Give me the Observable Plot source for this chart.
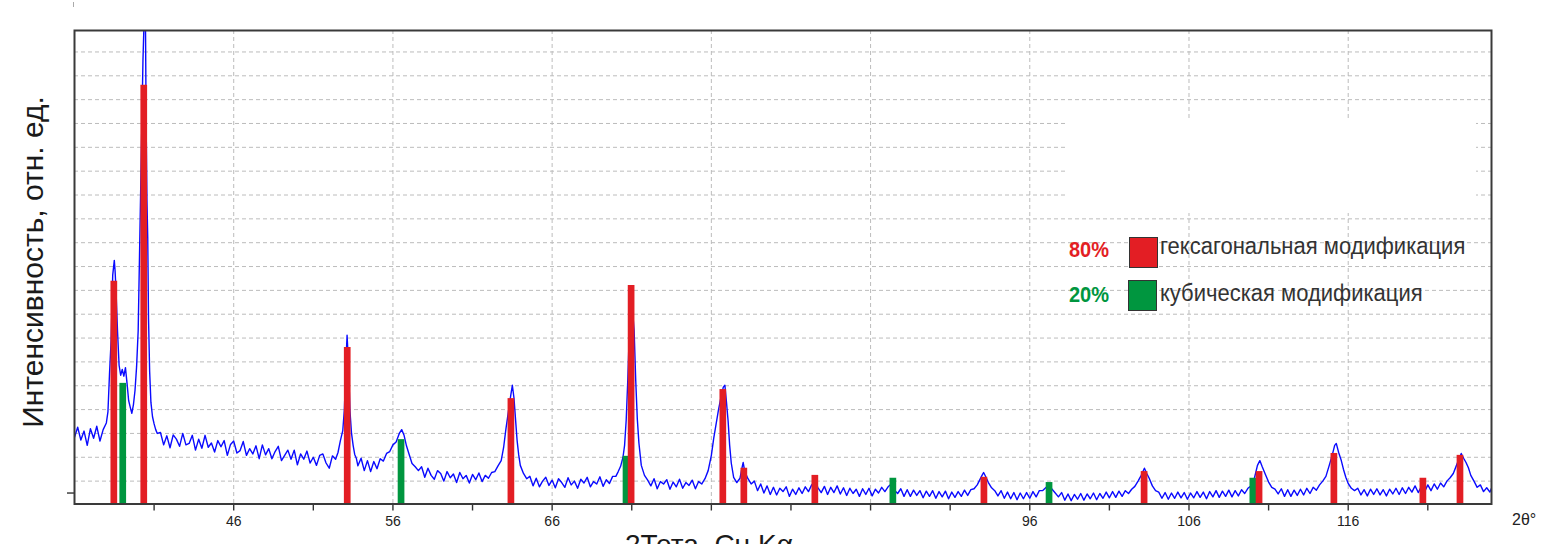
<!DOCTYPE html>
<html>
<head>
<meta charset="utf-8">
<script src="https://cdn.jsdelivr.net/npm/d3@7"></script>
<script src="https://cdn.jsdelivr.net/npm/@observablehq/plot@0.6"></script>
<style>
  html, body { margin: 0; padding: 0; background: #fff; overflow: hidden; }
  #wrap { position: relative; width: 1546px; height: 544px; font-family: "Liberation Sans", Arial, sans-serif; }
  #wrap svg { position: absolute; left: 0; top: 0; }
  .ov { position: absolute; white-space: nowrap; }
</style>
</head>
<body>
<div id="wrap"></div>
<script>
// ---------- data ----------
const xDomain = [36, 125];
const yDomain = [2, 995];
const xMinorTicks = [41, 46, 51, 56, 61, 66, 71, 76, 81, 86, 91, 96, 101, 106, 111, 116, 121];
const xLabelTicks = [46, 56, 66, 76, 86, 96, 106, 116];
const yGrid = [50, 100, 150, 200, 250, 300, 350, 400, 450, 500, 550, 600, 650, 700, 750, 800, 850, 900, 950];
const yOuterTick = [25];

// hexagonal phase reference lines (2θ, relative intensity)
const hexPos = [38.47, 40.35, 53.13, 63.41, 70.96, 76.72, 78.04, 82.50, 93.12, 103.18, 110.40, 115.10, 120.69, 123.02];
const hexVal = [469, 880, 330, 223, 460, 242, 77, 62, 58, 70, 70, 108, 56, 104];
// cubic phase reference lines
const cubPos = [39.03, 56.51, 70.64, 87.40, 97.21, 110.01];
const cubVal = [255, 137, 102, 56, 47, 56];

const legendPct = ["80%", "20%"];
const legendLabels = ["гексагональная модификация", "кубическая модификация"];
const phaseColors = ["#e31e24", "#00963f"];

const yTitle = "Интенсивность, отн. ед.";
const xTitle = "2Тета, Cu Kα";
const xUnit = "2θ°";

// measured diffraction pattern [2θ, intensity]
const trace = [
[36.0,142],[36.2,163],[36.4,136],[36.6,155],[36.8,125],[37.0,160],[37.2,140],[37.4,165],[37.6,134],[37.8,158],
[38.0,172],[38.1,195],[38.2,276],[38.3,345],[38.4,482],[38.5,513],[38.55,490],[38.6,456],[38.7,366],[38.8,293],
[38.9,272],[39.0,284],[39.1,270],[39.2,288],[39.3,255],[39.4,219],[39.5,205],[39.6,192],[39.7,210],[39.8,240],
[39.9,290],[40.0,366],[40.1,555],[40.2,743],[40.3,932],[40.4,1050],[40.45,1050],[40.5,800],[40.55,640],[40.6,560],
[40.65,390],[40.72,280],[40.8,215],[40.9,185],[41.0,170],[41.1,158],[41.2,150],[41.4,152],[41.6,126],[41.8,145],
[42.0,120],[42.2,147],[42.4,138],[42.6,123],[42.8,150],[43.0,126],[43.2,129],[43.4,146],[43.6,115],[43.8,138],
[44.0,119],[44.2,146],[44.4,121],[44.6,130],[44.8,111],[45.0,135],[45.2,122],[45.4,135],[45.6,104],[45.8,127],
[46.0,134],[46.2,109],[46.4,114],[46.6,133],[46.8,104],[47.0,118],[47.2,107],[47.4,124],[47.6,97],[47.8,126],
[48.0,105],[48.2,118],[48.4,97],[48.6,112],[48.8,123],[49.0,93],[49.2,104],[49.4,115],[49.6,96],[49.8,115],
[50.0,84],[50.2,107],[50.4,96],[50.6,113],[50.8,88],[51.0,100],[51.2,83],[51.4,104],[51.6,107],[51.8,88],
[52.0,77],[52.2,103],[52.4,96],[52.55,110],[52.7,135],[52.85,156],[52.95,200],[53.05,300],[53.12,356],[53.2,303],
[53.3,198],[53.4,150],[53.5,125],[53.6,106],[53.7,98],[53.8,82],[54.0,98],[54.2,72],[54.4,93],[54.6,70],
[54.8,91],[55.0,76],[55.2,97],[55.4,92],[55.6,108],[55.8,112],[56.0,126],[56.2,132],[56.4,150],[56.55,158],
[56.7,146],[56.85,124],[57.0,108],[57.2,87],[57.4,80],[57.6,72],[57.8,80],[58.0,58],[58.2,77],[58.4,62],
[58.6,54],[58.8,72],[59.0,66],[59.2,50],[59.4,70],[59.6,57],[59.8,65],[60.0,47],[60.2,68],[60.4,55],
[60.6,62],[60.8,46],[61.0,64],[61.2,53],[61.4,67],[61.6,49],[61.8,62],[62.0,56],[62.2,68],[62.4,70],
[62.6,82],[62.8,93],[62.95,120],[63.1,160],[63.25,195],[63.4,230],[63.5,251],[63.6,225],[63.7,180],[63.8,135],
[63.9,105],[64.0,83],[64.2,66],[64.4,55],[64.6,60],[64.8,40],[65.0,56],[65.2,38],[65.4,50],[65.6,58],
[65.8,41],[66.0,52],[66.2,36],[66.4,55],[66.6,47],[66.8,37],[67.0,57],[67.2,42],[67.4,50],[67.6,35],
[67.8,54],[68.0,46],[68.2,58],[68.4,38],[68.6,49],[68.8,44],[69.0,59],[69.2,39],[69.4,53],[69.6,45],
[69.8,60],[70.0,60],[70.15,70],[70.3,81],[70.45,100],[70.55,125],[70.65,177],[70.75,261],[70.85,366],[70.95,429],
[71.05,408],[71.15,366],[71.25,261],[71.35,180],[71.45,130],[71.6,83],[71.8,62],[72.0,52],[72.2,40],[72.4,55],
[72.6,34],[72.8,49],[73.0,44],[73.2,53],[73.4,33],[73.6,48],[73.8,38],[74.0,54],[74.2,35],[74.4,47],
[74.6,41],[74.8,52],[75.0,34],[75.2,49],[75.4,44],[75.6,55],[75.8,72],[76.0,104],[76.15,140],[76.3,170],
[76.45,200],[76.6,225],[76.75,247],[76.85,251],[76.95,215],[77.05,177],[77.15,125],[77.25,88],[77.4,58],[77.6,47],
[77.8,56],[77.95,82],[78.0,89],[78.1,70],[78.3,55],[78.5,44],[78.7,50],[78.9,30],[79.1,44],[79.3,25],
[79.5,40],[79.7,22],[79.9,37],[80.1,21],[80.3,35],[80.5,28],[80.7,38],[80.9,18],[81.1,33],[81.3,22],
[81.5,36],[81.7,24],[81.9,38],[82.1,28],[82.3,42],[82.5,50],[82.7,36],[82.9,26],[83.1,39],[83.3,22],
[83.5,37],[83.7,26],[83.9,40],[84.1,23],[84.3,36],[84.5,20],[84.7,35],[84.9,24],[85.1,33],[85.3,18],
[85.5,34],[85.7,22],[85.9,35],[86.1,19],[86.3,33],[86.5,25],[86.7,37],[86.9,28],[87.1,38],[87.3,44],
[87.5,31],[87.7,24],[87.9,34],[88.1,18],[88.3,32],[88.5,18],[88.7,31],[88.9,20],[89.1,30],[89.3,15],
[89.5,29],[89.7,18],[89.9,30],[90.1,14],[90.3,28],[90.5,17],[90.7,29],[90.9,13],[91.1,27],[91.3,16],
[91.5,28],[91.7,18],[91.9,31],[92.1,20],[92.3,32],[92.5,34],[92.7,42],[92.85,52],[93.0,62],[93.1,68],
[93.25,58],[93.4,47],[93.6,36],[93.8,30],[94.0,19],[94.2,30],[94.4,14],[94.6,27],[94.8,13],[95.0,26],
[95.2,11],[95.4,25],[95.6,13],[95.8,26],[96.0,14],[96.2,28],[96.4,17],[96.6,30],[96.8,30],[97.0,36],
[97.2,42],[97.4,33],[97.6,25],[97.8,17],[98.0,26],[98.2,10],[98.4,23],[98.6,9],[98.8,22],[99.0,12],
[99.2,24],[99.4,10],[99.6,23],[99.8,13],[100.0,25],[100.2,11],[100.4,24],[100.6,14],[100.8,27],[101.0,15],
[101.2,28],[101.4,16],[101.6,29],[101.8,18],[102.0,30],[102.2,24],[102.4,33],[102.6,39],[102.8,50],[103.0,62],
[103.2,77],[103.35,66],[103.5,56],[103.7,40],[103.9,30],[104.1,27],[104.3,14],[104.5,26],[104.7,12],[104.9,25],
[105.1,14],[105.3,27],[105.5,15],[105.7,26],[105.9,12],[106.1,25],[106.3,15],[106.5,28],[106.7,16],[106.9,27],
[107.1,13],[107.3,28],[107.5,17],[107.7,30],[107.9,16],[108.1,29],[108.3,18],[108.5,31],[108.7,17],[108.9,30],
[109.1,19],[109.3,32],[109.5,24],[109.7,35],[109.9,40],[110.1,55],[110.3,83],[110.45,93],[110.6,80],[110.8,64],
[111.0,48],[111.2,37],[111.4,33],[111.6,23],[111.8,34],[112.0,18],[112.2,32],[112.4,18],[112.6,31],[112.8,20],
[113.0,33],[113.2,21],[113.4,35],[113.6,24],[113.8,37],[114.0,31],[114.2,42],[114.4,50],[114.6,60],[114.8,82],
[115.0,105],[115.15,125],[115.25,129],[115.4,110],[115.55,95],[115.7,75],[115.85,58],[116.0,45],[116.2,35],[116.4,30],
[116.6,35],[116.8,21],[117.0,32],[117.2,19],[117.4,33],[117.6,22],[117.8,34],[118.0,21],[118.2,32],[118.4,19],
[118.6,33],[118.8,23],[119.0,35],[119.2,22],[119.4,36],[119.6,24],[119.8,37],[120.0,27],[120.2,40],[120.4,26],
[120.6,39],[120.8,28],[121.0,42],[121.2,30],[121.4,44],[121.6,33],[121.8,46],[122.0,38],[122.2,50],[122.4,57],
[122.6,66],[122.8,83],[123.0,100],[123.1,108],[123.25,98],[123.4,89],[123.55,78],[123.7,62],[123.9,50],[124.1,37],
[124.3,42],[124.5,28],[124.7,36],[124.9,27],[125.0,35]
];

// ---------- chart ----------
const hexBars = hexPos.map((x, i) => ({x, v: hexVal[i]}));
const cubBars = cubPos.map((x, i) => ({x, v: cubVal[i]}));
const gridStyle = {stroke: "#bcbcbc", strokeOpacity: 1, strokeWidth: 1, strokeDasharray: "4,3"};

const chart = Plot.plot({
  width: 1546,
  height: 544,
  marginLeft: 74,
  marginRight: 55,
  marginTop: 30,
  marginBottom: 40.5,
  x: {domain: xDomain},
  y: {domain: yDomain},
  style: {fontFamily: "'Liberation Sans', Arial, sans-serif", fontSize: "14px", color: "#222", background: "transparent"},
  marks: [
    Plot.gridY(yGrid, gridStyle),
    Plot.gridX(xLabelTicks, gridStyle),
    Plot.line(trace, {x: d => d[0], y: d => d[1], stroke: "#0a0aff", strokeWidth: 1.4, clip: true}),
    Plot.ruleX(cubBars, {x: "x", y1: yDomain[0], y2: "v", stroke: phaseColors[1], strokeWidth: 6.7}),
    Plot.ruleX(hexBars, {x: "x", y1: yDomain[0], y2: "v", stroke: phaseColors[0], strokeWidth: 6.7}),
    Plot.axisX({ticks: xMinorTicks, tickSize: 7, tickPadding: 5, stroke: "#333", strokeWidth: 1.4,
      tickFormat: d => xLabelTicks.includes(d) ? String(d) : "", label: null}),
    Plot.axisY({ticks: yOuterTick, tickSize: 7, stroke: "#333", strokeWidth: 1.4, tickFormat: () => "", label: null}),
    Plot.frame({stroke: "#3a3a3a", strokeWidth: 2})
  ]
});

const wrap = document.getElementById("wrap");
wrap.appendChild(chart);

function addDiv(html, css) {
  const d = document.createElement("div");
  d.className = "ov";
  d.innerHTML = html;
  Object.assign(d.style, css);
  wrap.appendChild(d);
  return d;
}

// blank area behind the legend block (grid hidden)
addDiv("", {left: "1066px", top: "120px", width: "410px", height: "93px", background: "#fff"});
// small dashed stub above the frame
addDiv("", {left: "73px", top: "2px", height: "5px", borderLeft: "1px dashed #aaa"});

// y title
addDiv(yTitle, {left: "33px", top: "262px", fontSize: "30px", lineHeight: "30px", color: "#1a1a1a",
  transform: "translate(-50%,-50%) rotate(-90deg)"});

// x title (white box hides part of the tick labels)
addDiv(xTitle, {left: "615px", top: "516px", width: "280px", paddingLeft: "10px", paddingTop: "13px",
  fontSize: "28px", lineHeight: "32px", color: "#1a1a1a", background: "#fff"});

// unit label at the right end of the axis
addDiv(xUnit, {left: "1512px", top: "511px", fontSize: "16px", lineHeight: "18px", color: "#222"});

// legend
const legTops = [236, 281];
legendLabels.forEach((lab, i) => {
  addDiv(legendPct[i], {left: "1069px", top: (legTops[i] + 1) + "px", fontSize: "20px", lineHeight: "24px",
    fontWeight: "bold", color: phaseColors[i], transform: "scaleY(1.1)"});
  addDiv("", {left: (1129 - i) + "px", top: (legTops[i] + (i ? -1 : 1)) + "px", width: "27px", height: "29px",
    background: phaseColors[i], border: "1px solid #333"});
  addDiv(lab, {left: "1160px", top: (legTops[i] + (i ? 1 : -1)) + "px", fontSize: "22px", lineHeight: "24px",
    color: "#333", transform: "scaleY(1.05)"});
});
</script>
</body>
</html>
